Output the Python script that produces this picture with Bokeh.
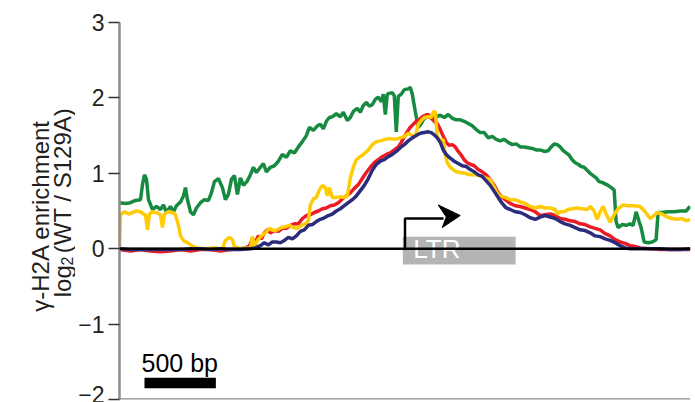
from bokeh.plotting import figure
from bokeh.models import Span, FixedTicker
from bokeh.layouts import row
from bokeh.core.properties import value
from bokeh.embed import file_html
from bokeh.resources import INLINE
import math

FONT = "Liberation Sans"

# position relative to LTR start (bp) and log2 enrichment values
green_bp = [-2000, -1958, -1923, -1888, -1853, -1839, -1825, -1811, -1797, -1769, -1741, -1713, -1692, -1671, -1643,
            -1622, -1601, -1573, -1552, -1538, -1524, -1503, -1482, -1461, -1433, -1405, -1377, -1356, -1335, -1307,
            -1279, -1258, -1237, -1216, -1195, -1174, -1153, -1132, -1104, -1083, -1062, -1041, -1013, -992, -971,
            -943, -915, -887, -859, -831, -803, -775, -747, -719, -691, -670, -642, -614, -593, -572, -551, -530,
            -509, -481, -453, -432, -404, -383, -362, -334, -313, -292, -271, -250, -229, -208, -187, -166, -152,
            -138, -124, -110, -89, -75, -61, -47, -26, -5, 23, 37, 51, 72, 93, 114, 135, 163, 191, 219, 247, 275,
            303, 331, 359, 387, 415, 443, 471, 499, 527, 555, 583, 611, 639, 667, 695, 723, 751, 779, 807, 835, 863,
            891, 919, 947, 975, 1003, 1024, 1045, 1066, 1087, 1108, 1129, 1150, 1171, 1192, 1213, 1234, 1255, 1276,
            1297, 1318, 1339, 1360, 1381, 1402, 1423, 1444, 1465, 1479, 1493, 1521, 1549, 1577, 1598, 1619, 1640,
            1654, 1675, 1703, 1731, 1759, 1773, 1801, 1843, 1885, 1927, 1969, 1997]
green_val = [0.61, 0.60, 0.61, 0.64, 0.65, 0.85, 0.98, 0.92, 0.65, 0.52, 0.56, 0.52, 0.58, 0.48, 0.56,
             0.49, 0.57, 0.62, 0.70, 0.81, 0.65, 0.49, 0.45, 0.54, 0.61, 0.65, 0.64, 0.74, 0.89, 0.93,
             0.81, 0.65, 0.72, 0.92, 0.97, 0.72, 0.94, 0.84, 0.90, 0.98, 1.08, 1.01, 1.08, 1.13, 1.02,
             1.08, 1.10, 1.16, 1.25, 1.21, 1.30, 1.27, 1.35, 1.42, 1.50, 1.61, 1.57, 1.63, 1.65, 1.59, 1.69, 1.74,
             1.75, 1.79, 1.75, 1.81, 1.70, 1.74, 1.82, 1.86, 1.81, 1.90, 1.94, 1.89, 1.91, 1.98, 2.01, 1.95, 2.05,
             1.78, 2.05, 2.06, 2.07, 2.03, 1.55, 2.02, 2.05, 2.11, 2.12, 2.14, 2.05, 1.82, 1.61, 1.66, 1.73, 1.75,
             1.73, 1.75, 1.77, 1.74, 1.78, 1.73, 1.71, 1.71, 1.69, 1.66, 1.63, 1.58, 1.54, 1.54, 1.47, 1.49, 1.45,
             1.43, 1.45, 1.41, 1.38, 1.39, 1.35, 1.35, 1.34, 1.33, 1.31, 1.31, 1.29, 1.30, 1.35, 1.39, 1.38, 1.35,
             1.30, 1.27, 1.24, 1.18, 1.14, 1.12, 1.09, 1.08, 1.04, 1.00, 0.97, 0.94, 0.89, 0.88, 0.86, 0.84, 0.81,
             0.78, 0.36, 0.28, 0.32, 0.31, 0.33, 0.31, 0.49, 0.36, 0.28, 0.09, 0.08, 0.09, 0.12, 0.48, 0.48, 0.49,
             0.49, 0.50, 0.50, 0.56]

yellow_bp = [-2000, -1993, -1965, -1937, -1909, -1881, -1853, -1832, -1818, -1804, -1790, -1769, -1741, -1713, -1699,
             -1685, -1657, -1629, -1608, -1587, -1573, -1552, -1524, -1496, -1461, -1398, -1328, -1279, -1258, -1230,
             -1209, -1195, -1153, -1104, -1083, -1069, -1055, -1034, -1006, -978, -950, -922, -894, -866, -838, -810,
             -782, -754, -726, -698, -677, -663, -642, -621, -600, -579, -558, -544, -530, -509, -481, -453, -425,
             -404, -383, -362, -341, -313, -285, -257, -229, -201, -173, -138, -103, -68, -33, -5, 23, 51, 72, 93,
             114, 135, 163, 184, 198, 212, 226, 247, 268, 282, 296, 317, 338, 359, 387, 422, 457, 492, 527, 562, 597,
             618, 646, 667, 702, 737, 772, 807, 842, 877, 912, 947, 982, 1017, 1052, 1066, 1087, 1115, 1143, 1171,
             1206, 1241, 1276, 1297, 1325, 1346, 1367, 1388, 1409, 1437, 1465, 1493, 1528, 1563, 1605, 1647, 1682,
             1717, 1745, 1766, 1801, 1836, 1871, 1906, 1941, 1969, 1997]
yellow_val = [0.00, 0.45, 0.49, 0.46, 0.48, 0.50, 0.49, 0.46, 0.45, 0.25, 0.46, 0.49, 0.48, 0.45, 0.28,
              0.46, 0.49, 0.48, 0.45, 0.31, 0.17, 0.11, 0.08, 0.04, 0.01, 0.00, 0.01, 0.00, 0.11, 0.15,
              0.12, 0.03, 0.00, 0.01, 0.00, 0.16, 0.03, 0.11, 0.17, 0.21, 0.27, 0.24, 0.25, 0.28, 0.29, 0.31,
              0.28, 0.27, 0.31, 0.33, 0.37, 0.58, 0.66, 0.68, 0.78, 0.84, 0.81, 0.70, 0.81, 0.68, 0.68, 0.69, 0.68,
              0.70, 0.94, 1.08, 1.18, 1.22, 1.26, 1.31, 1.38, 1.42, 1.43, 1.45, 1.46, 1.45, 1.47, 1.49, 1.53, 1.50,
              1.49, 1.65, 1.70, 1.74, 1.75, 1.74, 1.81, 1.82, 1.49, 1.43, 1.45, 1.25, 1.14, 1.08, 1.05, 1.02, 1.01,
              1.00, 0.98, 0.98, 0.97, 0.94, 0.92, 0.84, 0.74, 0.70, 0.68, 0.65, 0.65, 0.62, 0.60, 0.56, 0.54, 0.56,
              0.54, 0.54, 0.52, 0.46, 0.49, 0.49, 0.52, 0.53, 0.54, 0.53, 0.52, 0.56, 0.50, 0.39, 0.49, 0.56, 0.46,
              0.35, 0.45, 0.53, 0.58, 0.57, 0.57, 0.56, 0.49, 0.40, 0.44, 0.48, 0.46, 0.42, 0.40, 0.39, 0.40, 0.37,
              0.39]

red_bp = [-2000, -1923, -1853, -1783, -1713, -1643, -1573, -1503, -1433, -1363, -1293, -1223, -1153, -1118, -1090,
          -1069, -1048, -1027, -1006, -985, -964, -943, -915, -887, -859, -831, -803, -775, -747, -719, -691, -663,
          -635, -607, -579, -551, -523, -495, -467, -439, -411, -383, -355, -327, -299, -271, -243, -215, -187,
          -159, -131, -103, -75, -47, -26, -5, 16, 37, 58, 79, 100, 121, 142, 163, 184, 205, 226, 247, 268, 289,
          310, 331, 352, 373, 394, 415, 436, 457, 485, 513, 541, 569, 597, 625, 653, 681, 709, 737, 772, 807, 842,
          877, 912, 947, 982, 1017, 1052, 1087, 1122, 1157, 1192, 1227, 1262, 1297, 1332, 1367, 1402, 1437, 1472,
          1507, 1542, 1577, 1612, 1647, 1717, 1787, 1857, 1927, 1997]
red_val = [-0.01, -0.03, -0.01, -0.03, -0.04, -0.03, -0.01, -0.03, -0.01, -0.01, -0.03, -0.01, 0.00, 0.01, 0.04,
           0.12, 0.09, 0.17, 0.13, 0.21, 0.25, 0.21, 0.24, 0.23, 0.27, 0.27, 0.31, 0.33, 0.33, 0.40, 0.44, 0.45,
           0.48, 0.50, 0.53, 0.54, 0.57, 0.58, 0.61, 0.66, 0.70, 0.74, 0.80, 0.85, 0.93, 1.01, 1.08, 1.14, 1.18,
           1.22, 1.25, 1.27, 1.31, 1.35, 1.41, 1.49, 1.55, 1.61, 1.65, 1.69, 1.71, 1.75, 1.77, 1.78, 1.73, 1.69,
           1.66, 1.58, 1.49, 1.41, 1.37, 1.38, 1.35, 1.29, 1.24, 1.18, 1.14, 1.12, 1.10, 1.05, 1.02, 0.98, 0.92,
           0.84, 0.74, 0.68, 0.64, 0.60, 0.57, 0.56, 0.54, 0.52, 0.49, 0.44, 0.45, 0.46, 0.44, 0.40, 0.39, 0.37,
           0.36, 0.33, 0.32, 0.29, 0.27, 0.25, 0.20, 0.17, 0.12, 0.09, 0.07, 0.04, 0.03, 0.01, 0.00, -0.01, -0.01,
           -0.01, -0.01]

navy_bp = [-2000, -1923, -1853, -1783, -1713, -1643, -1573, -1503, -1433, -1363, -1293, -1223, -1153, -1083, -1048,
           -1013, -985, -957, -929, -901, -873, -845, -817, -789, -761, -733, -705, -677, -649, -621, -593, -565,
           -537, -509, -481, -453, -425, -397, -369, -341, -313, -285, -257, -229, -201, -173, -145, -117, -89,
           -61, -33, -5, 23, 51, 79, 107, 135, 163, 184, 205, 226, 247, 268, 289, 317, 345, 373, 401, 429, 457,
           485, 513, 541, 569, 597, 625, 653, 681, 709, 737, 772, 807, 842, 877, 912, 947, 982, 1017, 1052, 1087,
           1122, 1157, 1192, 1227, 1262, 1297, 1332, 1367, 1402, 1437, 1472, 1507, 1542, 1577, 1647, 1717, 1787,
           1857, 1927, 1997]
navy_val = [0.00, -0.01, -0.01, -0.01, -0.01, -0.01, -0.01, 0.00, 0.00, -0.01, 0.00, -0.01, -0.01, 0.00, 0.01,
            0.04, 0.08, 0.05, 0.09, 0.09, 0.08, 0.11, 0.15, 0.13, 0.17, 0.23, 0.25, 0.31, 0.32, 0.36, 0.39, 0.41,
            0.44, 0.46, 0.50, 0.53, 0.57, 0.61, 0.65, 0.70, 0.77, 0.84, 0.93, 1.04, 1.12, 1.16, 1.18, 1.22, 1.25,
            1.29, 1.34, 1.38, 1.43, 1.47, 1.50, 1.53, 1.54, 1.55, 1.54, 1.51, 1.47, 1.41, 1.31, 1.25, 1.20, 1.16,
            1.13, 1.10, 1.09, 1.05, 1.02, 0.98, 0.96, 0.90, 0.84, 0.76, 0.68, 0.60, 0.54, 0.52, 0.49, 0.48, 0.45,
            0.41, 0.39, 0.42, 0.44, 0.42, 0.40, 0.36, 0.33, 0.31, 0.28, 0.25, 0.24, 0.21, 0.17, 0.16, 0.13, 0.11,
            0.08, 0.04, 0.01, 0.00, 0.00, 0.00, 0.00, -0.01, -0.01, 0.00]

y_ticks = [-2, -1, 0, 1, 2, 3]
y_tick_labels = ["\u22122", "\u22121", "0", "1", "2", "3"]
y_title_line1 = "\u03b3-H2A enrichment"
y_title_line2 = ["log", "2", "(WT / S129A)"]

ltr_start, ltr_end = -15, 775          # LTR box extent (bp)
arrow_height = 0.40                     # transcription arrow height (log2 units)
scale_bar_bp = 500
scale_bar_start = -1825

LEFT_W = 75
TOTAL_W, TOTAL_H = 695, 402

# ---- left strip holding the rotated y-axis title ----
t = figure(width=LEFT_W, height=TOTAL_H, output_backend="svg", toolbar_location=None,
           x_range=(0, LEFT_W), y_range=(0, TOTAL_H), x_axis_location=None, y_axis_location=None,
           min_border=0, min_border_left=0, min_border_right=0, min_border_top=0, min_border_bottom=0)
t.outline_line_color = None
t.xgrid.visible = False
t.ygrid.visible = False
rot = math.pi / 2
t.text(x=[40], y=[196], text=[y_title_line1], angle=rot, text_align="center", text_baseline="alphabetic",
       text_font=value(FONT), text_font_size="24px", text_color="#231f20")
t.text(x=[62], y=[109], text=[y_title_line2[0]], angle=rot, text_align="left", text_baseline="alphabetic",
       text_font=value(FONT), text_font_size="24px", text_color="#231f20")
t.text(x=[66], y=[143], text=[y_title_line2[1]], angle=rot, text_align="left", text_baseline="alphabetic",
       text_font=value(FONT), text_font_size="16px", text_color="#231f20")
t.text(x=[62], y=[156], text=[y_title_line2[2]], angle=rot, text_align="left", text_baseline="alphabetic",
       text_font=value(FONT), text_font_size="24px", text_color="#231f20")

# ---- main chart ----
p = figure(width=TOTAL_W - LEFT_W, height=TOTAL_H, output_backend="svg", toolbar_location=None,
           x_range=(-2000, 2000), y_range=(-2, 3), x_axis_location=None,
           min_border_left=119 - LEFT_W, min_border_right=5, min_border_top=22, min_border_bottom=3)
p.outline_line_color = None
p.xgrid.visible = False
p.ygrid.visible = False

ax = p.yaxis[0]
ax.ticker = FixedTicker(ticks=y_ticks)
ax.major_label_overrides = {tk: lb for tk, lb in zip(y_ticks, y_tick_labels)}
ax.axis_line_color = "#8c8c8c"
ax.axis_line_width = 2.5
ax.major_tick_line_color = "#333333"
ax.major_tick_line_width = 1.5
ax.major_tick_out = 11
ax.major_tick_in = 0
ax.minor_tick_line_color = None
ax.major_label_text_font = FONT
ax.major_label_text_font_size = "23px"
ax.major_label_text_color = "#231f20"
ax.major_label_standoff = 4

# bottom axis line and zero line
p.add_layout(Span(location=-2, dimension="width", line_color="#8c8c8c", line_width=2.5))
p.add_layout(Span(location=0, dimension="width", line_color="black", line_width=2.5))

series = [(green_bp, green_val, "#168a3f"),
          (red_bp, red_val, "#ec1c24"),
          (yellow_bp, yellow_val, "#ffcb05"),
          (navy_bp, navy_val, "#2b2d7c")]
for xs, ys, c in series:
    p.line(xs, ys, line_color=c, line_width=3.5)

# LTR box
p.quad(left=[ltr_start], right=[ltr_end], bottom=[-0.21], top=[0.16],
       fill_color="#acacac", fill_alpha=0.9, line_color=None)
p.text(x=[58], y=[-0.01], text=["LTR"], text_color="white", text_font_size="26px",
       text_baseline="middle", text_align="left", text_font=value(FONT))

# transcription arrow
p.line([0, 0, 270], [0.0, arrow_height, arrow_height], line_color="black", line_width=2.5)
p.patch([233, 387, 261, 289], [0.58, 0.44, 0.28, 0.42], fill_color="black", line_color="black")

# scale bar
p.quad(left=[scale_bar_start], right=[scale_bar_start + scale_bar_bp], bottom=[-1.85], top=[-1.71],
       fill_color="black", line_color=None)
p.text(x=[scale_bar_start - 21], y=[-1.51], text=["500 bp"], text_color="black", text_font_size="25px",
       text_baseline="middle", text_align="left", text_font=value(FONT))

layout = row(t, p, spacing=0)
open("out.html", "w").write(file_html(layout, INLINE))
